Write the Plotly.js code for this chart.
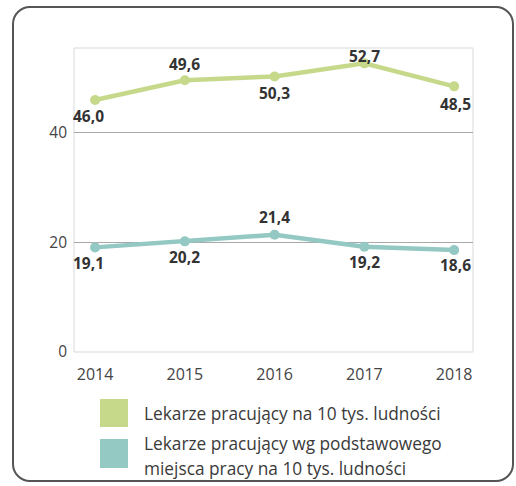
<!DOCTYPE html>
<html>
<head>
<meta charset="utf-8">
<script src="https://cdn.plot.ly/plotly-3.0.1.min.js"></script>
<style>
  html, body { margin: 0; padding: 0; background: #fff; }
  #wrap { position: relative; width: 516px; height: 486px; overflow: hidden; }
  #frame { position: absolute; left: 12px; top: 6px; width: 502px; height: 476px;
           border: 2px solid #555; border-radius: 18px; box-sizing: border-box; }
  #chart { position: absolute; left: 0; top: 0; width: 516px; height: 486px; }
</style>
</head>
<body>
<div id="wrap">
  <div id="frame"></div>
  <div id="chart"></div>
</div>
<script>
const years = ['2014', '2015', '2016', '2017', '2018'];
const series1Name = 'Lekarze pracujący na 10 tys. ludności';
const series1 = [46.0, 49.6, 50.3, 52.7, 48.5];
const series2Name = 'Lekarze pracujący wg podstawowego<br>miejsca pracy na 10 tys. ludności';
const series2 = [19.1, 20.2, 21.4, 19.2, 18.6];
const yTicks = [0, 20, 40];

const green = '#c6d98b';
const teal = '#93c8c3';
const font = 'Open Sans, DejaVu Sans, sans-serif';

// label placement (style only)
const pos1 = [{dx: -7, dy: -16}, {dx: 0, dy: 16}, {dx: 0, dy: -17}, {dx: 0, dy: 7}, {dx: 1, dy: -18}];
const pos2 = [{dx: -7, dy: -16}, {dx: 0, dy: -16}, {dx: 0, dy: 18}, {dx: 0, dy: -15}, {dx: 1, dy: -15}];

function fmt(v) { return v.toFixed(1).replace('.', ','); }

const traces = [
  {x: years, y: series1, type: 'scatter', mode: 'lines+markers', name: series1Name,
   line: {color: green, width: 4.5}, marker: {color: green, size: 10}, showlegend: false},
  {x: years, y: series2, type: 'scatter', mode: 'lines+markers', name: series2Name,
   line: {color: teal, width: 4.5}, marker: {color: teal, size: 10}, showlegend: false}
];

const annotations = [];
[[series1, pos1], [series2, pos2]].forEach(function (pair) {
  const s = pair[0], p = pair[1];
  s.forEach(function (v, i) {
    annotations.push({x: i, y: v, xref: 'x', yref: 'y', text: '<b>' + fmt(v) + '</b>',
      showarrow: false, xshift: p[i].dx, yshift: p[i].dy,
      font: {family: font, size: 15.5, color: '#333'}});
  });
});

// legend built from shapes + annotations (one annotation per text line)
const legendItems = [
  {name: series1Name, color: green, y0: 399, y1: 427, ty: 413},
  {name: series2Name, color: teal, y0: 439, y1: 468, ty: 443}
];
const shapes = [
  {type: 'rect', xref: 'paper', yref: 'paper', x0: 0, x1: 1, y0: 0, y1: 1,
   line: {color: '#d9d9d9', width: 1}, fillcolor: 'rgba(0,0,0,0)', layer: 'below'}
];
legendItems.forEach(function (it) {
  shapes.push({type: 'rect', xref: 'paper', yref: 'paper',
    x0: (100 - 74) / 399, x1: (128 - 74) / 399,
    y0: (352 - it.y1) / 304, y1: (352 - it.y0) / 304,
    line: {width: 0}, fillcolor: it.color});
  it.name.split('<br>').forEach(function (line, k) {
    annotations.push({xref: 'paper', yref: 'paper', x: (142 - 74) / 399,
      y: (352 - (it.ty + 25 * k)) / 304,
      xanchor: 'left', yanchor: 'middle', align: 'left', showarrow: false, text: line,
      font: {family: font, size: 17.3, color: '#3a3a3a'}});
  });
});

const layout = {
  width: 516, height: 486,
  margin: {l: 74, r: 43, t: 48, b: 134},
  paper_bgcolor: 'rgba(0,0,0,0)', plot_bgcolor: 'rgba(0,0,0,0)',
  showlegend: false,
  xaxis: {type: 'category', range: [-0.235, 4.21], showgrid: false, zeroline: false,
    showline: false, ticks: '', ticklabelstandoff: 11,
    tickfont: {family: font, size: 16, color: '#444'}},
  yaxis: {range: [0, 55.5], tickvals: yTicks, ticktext: yTicks.map(String),
    showgrid: true, gridcolor: '#a9a9a9', gridwidth: 1, zeroline: false, showline: false,
    ticklabelstandoff: 6,
    tickfont: {family: font, size: 15.5, color: '#444'}, ticks: ''},
  shapes: shapes,
  annotations: annotations
};

Plotly.newPlot('chart', traces, layout, {displayModeBar: false, staticPlot: true});
</script>
</body>
</html>
